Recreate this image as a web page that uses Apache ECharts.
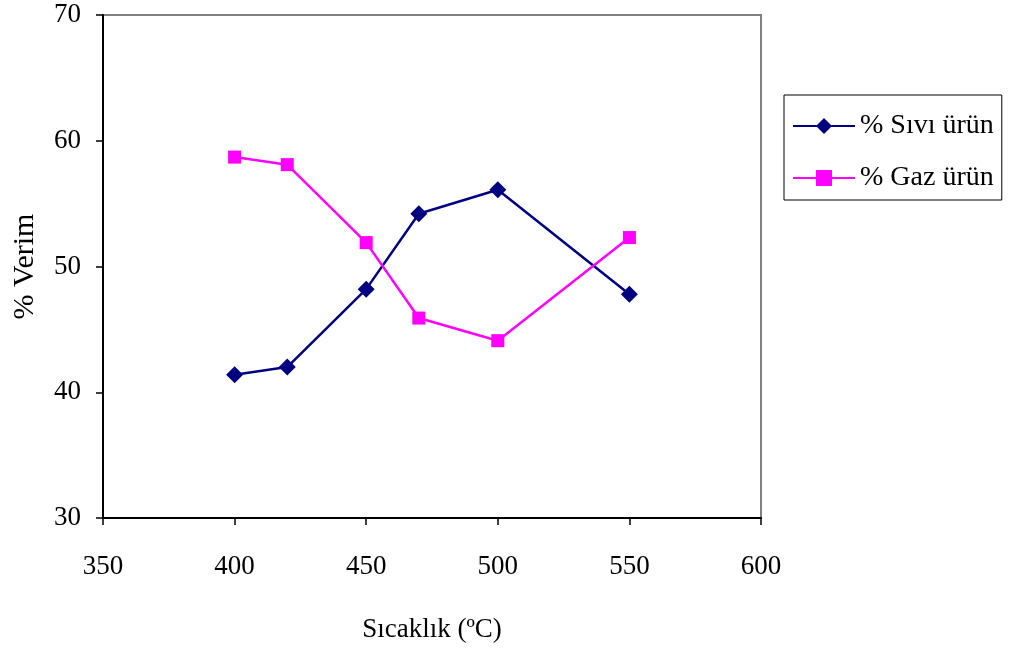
<!DOCTYPE html>
<html>
<head>
<meta charset="utf-8">
<script src="https://cdn.jsdelivr.net/npm/echarts@6/dist/echarts.min.js"></script>
<style>
  html, body { margin: 0; padding: 0; background: #fff; }
  #chart { width: 1010px; height: 651px; }
</style>
</head>
<body>
<div id="chart"></div>
<script>
// Reaction temperature (°C) and product yields (%)
const temperatures = [400, 420, 450, 470, 500, 550];
const liquidYield = [41.4, 42.0, 48.2, 54.2, 56.1, 47.8];
const gasYield = [58.7, 58.1, 51.9, 45.9, 44.1, 52.3];
const seriesNames = ['% Sıvı ürün', '% Gaz ürün'];

const FONT = '"Liberation Serif", "Times New Roman", serif';

const pairs = (xs, ys) => xs.map((x, i) => [x, ys[i]]);

const chart = echarts.init(document.getElementById('chart'));
chart.setOption({
  animation: false,
  backgroundColor: '#ffffff',
  grid: {
    left: 103, right: 249, top: 15, bottom: 133,
    outerBoundsMode: 'none', containLabel: false,
    show: true, borderColor: '#808080', borderWidth: 2, backgroundColor: 'transparent'
  },
  legend: {
    orient: 'vertical',
    left: 784, top: 95,
    padding: [17, 8, 8, 8],
    itemGap: 24,
    itemWidth: 62, itemHeight: 20,
    borderColor: '#000', borderWidth: 1,
    textStyle: { fontFamily: FONT, fontSize: 28, color: '#000' },
    data: seriesNames
  },
  xAxis: {
    type: 'value', min: 350, max: 600, interval: 50,
    name: 'Sıcaklık (ºC)', nameLocation: 'middle', nameGap: 98,
    nameTextStyle: { fontFamily: FONT, fontSize: 27, color: '#000' },
    axisLine: { onZero: false, lineStyle: { color: '#000', width: 2 } },
    axisTick: { show: true, length: 7, lineStyle: { color: '#000', width: 1.5 } },
    axisLabel: { fontFamily: FONT, fontSize: 27, color: '#000', margin: 35 },
    splitLine: { show: false }
  },
  yAxis: {
    type: 'value', min: 30, max: 70, interval: 10,
    name: '% Verim', nameLocation: 'middle', nameGap: 63,
    nameTextStyle: { fontFamily: FONT, fontSize: 30, color: '#000' },
    axisLine: { onZero: false, lineStyle: { color: '#000', width: 2 } },
    axisTick: { show: true, length: 7, lineStyle: { color: '#000', width: 1.5 } },
    axisLabel: { fontFamily: FONT, fontSize: 27, color: '#000', margin: 22 },
    splitLine: { show: false }
  },
  series: [
    {
      name: seriesNames[0], type: 'line',
      data: pairs(temperatures, liquidYield),
      symbol: 'diamond', symbolSize: 17,
      lineStyle: { color: '#000080', width: 2.5 },
      itemStyle: { color: '#000080' }
    },
    {
      name: seriesNames[1], type: 'line',
      data: pairs(temperatures, gasYield),
      symbol: 'rect', symbolSize: 13,
      lineStyle: { color: '#ff00ff', width: 2.5 },
      itemStyle: { color: '#ff00ff' }
    }
  ]
});
</script>
</body>
</html>
